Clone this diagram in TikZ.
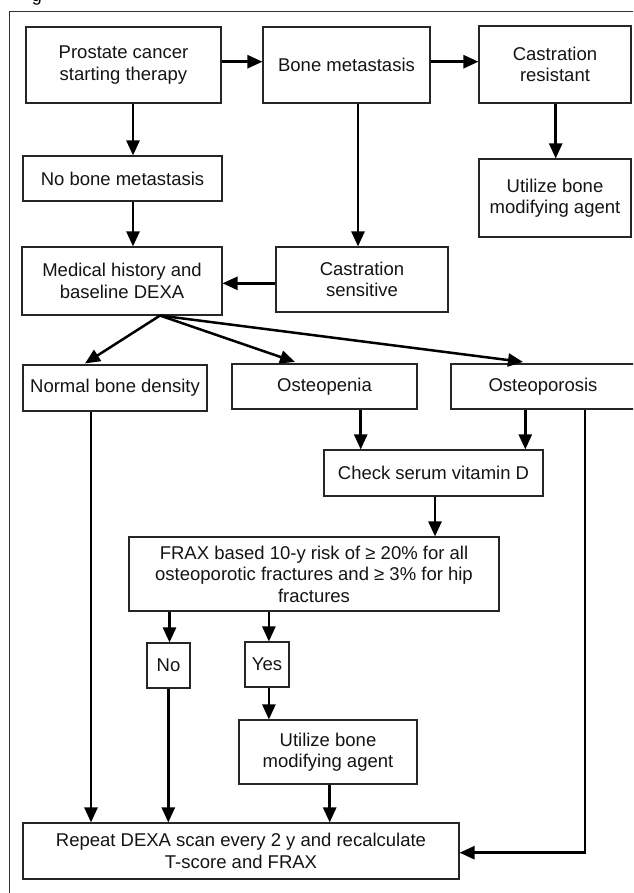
\documentclass[tikz,border=0pt]{standalone}
\usepackage{fontspec}
\setmainfont{Liberation Sans}
\usetikzlibrary{arrows.meta,calc}
\tikzset{
  box/.style={draw=black!85, line width=1.1pt, inner sep=2pt, align=center,
    font=\fontsize{18.5}{21.5}\selectfont, text=black!92},
  arr/.style={draw=black, line width=2.5pt, -{Triangle[length=15pt,width=13pt]}},
  frame/.style={draw=black!80, line width=1pt}
}
\begin{document}
\begin{tikzpicture}[x=1pt,y=-1pt]
\clip (0,0) rectangle (633,893);
\fill[white] (0,0) rectangle (633,893);
\node[anchor=base, font=\fontsize{18}{21.5}\selectfont] (glyph) at (37,2) {g};
\draw[frame] (9.5,12) rectangle (645,905);

% nodes
\node[box, minimum width=195, minimum height=76] (pro) at (123.5,65) {Prostate cancer\\starting therapy};
\node[box, minimum width=167, minimum height=76] (bm) at (346.5,65) {Bone metastasis};
\node[box, minimum width=152, minimum height=77] (cr) at (555,64.5) {Castration\\resistant};
\node[box, minimum width=152, minimum height=78] (ut1) at (555,198) {Utilize bone\\modifying agent};
\node[box, minimum width=199, minimum height=45] (nob) at (122.5,178.5) {No bone metastasis};
\node[box, minimum width=200, minimum height=68] (med) at (122,281) {Medical history and\\baseline DEXA};
\node[box, minimum width=172, minimum height=65] (cs) at (362,279.5) {Castration\\sensitive};
\node[box, minimum width=184, minimum height=46] (nbd) at (115,388) {Normal bone density};
\node[box, minimum width=185, minimum height=45] (open) at (324.5,386.5) {Osteopenia};
\node[box, minimum width=184, minimum height=45] (opor) at (543,386.5) {Osteoporosis};
\node[box, minimum width=219, minimum height=46] (chk) at (433.5,473) {Check serum vitamin D};
\node[box, minimum width=370, minimum height=74] (frax) at (314,574)
  {FRAX based 10-y risk of ≥ 20\% for all\\osteoporotic fractures and ≥ 3\% for hip\\fractures};
\node[box, minimum width=43, minimum height=45] (no) at (168.5,665.5) {No};
\node[box, minimum width=44, minimum height=45] (yes) at (267,664.5) {Yes};
\node[box, minimum width=178, minimum height=64] (ut2) at (328,752) {Utilize bone\\modifying agent};
\node[box, minimum width=436, minimum height=56] (rep) at (241,851) {Repeat DEXA scan every 2 y and recalculate\\T-score and FRAX};

% connectors
\draw[arr] (pro.east |- 0,61.7) -- (bm.west |- 0,61.7);
\draw[arr] (bm.east |- 0,61.7) -- (cr.west |- 0,61.7);
\draw[arr] (pro.south -| 133,0) -- (nob.north -| 133,0);
\draw[arr] (nob.south -| 133,0) -- (med.north -| 133,0);
\draw[arr] (bm.south -| 358,0) -- (cs.north -| 358,0);
\draw[arr] (cr.south -| 555.7,0) -- (ut1.north -| 555.7,0);
\draw[arr] (cs.west |- 0,283.3) -- (med.east |- 0,283.3);
\coordinate (ms) at ($(med.south)+(38,0)$);
\draw[arr] (ms) -- ($(nbd.north)+(-30,-1)$);
\draw[arr] (ms) -- ($(open.north)+(-29.5,-1.5)$);
\draw[arr] (ms) -- ($(opor.north)+(-20,-1.5)$);
\draw[arr] (open.south -| 360.7,0) -- (chk.north -| 360.7,0);
\draw[arr] (opor.south -| 525.3,0) -- (chk.north -| 525.3,0);
\draw[arr] (chk.south -| 435,0) -- (frax.north -| 435,0);
\draw[arr] (frax.south -| 169.5,0) -- (no.north -| 169.5,0);
\draw[arr] (frax.south -| 268.9,0) -- (yes.north -| 268.9,0);
\draw[arr] (no.south -| 168.3,0) -- (rep.north -| 168.3,0);
\draw[arr] (yes.south -| 268.9,0) -- (ut2.north -| 268.9,0);
\draw[arr] (ut2.south -| 329.7,0) -- (rep.north -| 329.7,0);
\draw[arr] (nbd.south -| 91,0) -- (rep.north -| 91,0);
\draw[arr] (opor.south -| 585,0) -- (585,852.7) -- (rep.east |- 0,852.7);
\end{tikzpicture}
\end{document}
